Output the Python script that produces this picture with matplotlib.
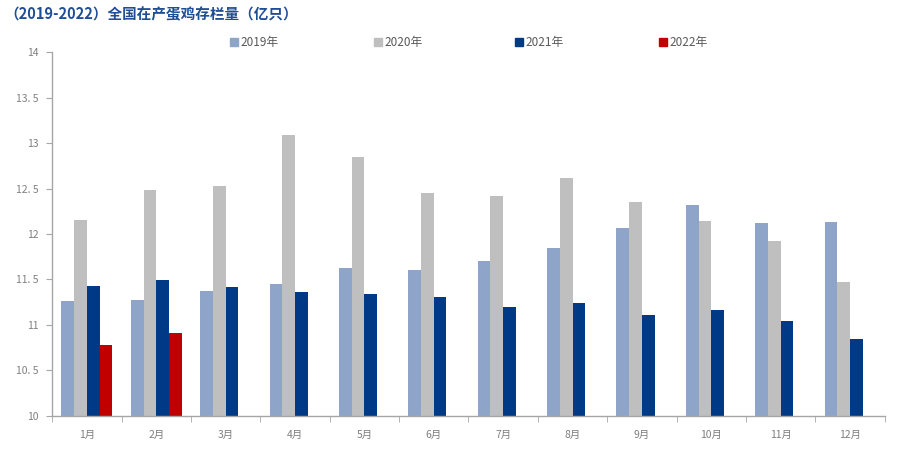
import numpy as np
import matplotlib
matplotlib.use('Agg')
import matplotlib.pyplot as plt
from matplotlib.ticker import FixedLocator

plt.rcParams['font.family'] = ['Noto Sans CJK SC', 'DejaVu Sans']

# data
months = ['1月', '2月', '3月', '4月', '5月', '6月', '7月', '8月', '9月', '10月', '11月', '12月']
y2019 = [11.26, 11.27, 11.37, 11.45, 11.63, 11.60, 11.70, 11.85, 12.07, 12.32, 12.12, 12.13]
y2020 = [12.15, 12.48, 12.53, 13.09, 12.85, 12.45, 12.42, 12.62, 12.35, 12.14, 11.92, 11.47]
y2021 = [11.43, 11.49, 11.42, 11.36, 11.34, 11.31, 11.20, 11.24, 11.11, 11.16, 11.04, 10.85]
y2022 = [10.78, 10.91]
series_names = ['2019年', '2020年', '2021年', '2022年']
yticks = [10, 10.5, 11, 11.5, 12, 12.5, 13, 13.5, 14]
ytick_labels = ['10', '10. 5', '11', '11. 5', '12', '12. 5', '13', '13. 5', '14']
colors = ['#8EA5C9', '#BFBFBF', '#003A86', '#C00000']

fig = plt.figure(figsize=(9, 4.58), dpi=100)
ax = fig.add_axes([0.058, 0.092, 0.925, 0.794])

x = np.arange(len(months))
w = 0.183
all_series = [y2019, y2020, y2021, y2022]
for k, (vals, name, c) in enumerate(zip(all_series, series_names, colors)):
    xs = x[:len(vals)] + (k - 1.5) * w
    ax.bar(xs, np.array(vals) - 10, bottom=10, width=w, color=c, label=name, zorder=2)

ax.set_ylim(10, 14)
ax.set_xlim(-0.5, 11.5)
ax.set_yticks(yticks)
ax.set_yticklabels(ytick_labels)

ax.set_xticks(x)
ax.set_xticklabels(months)
ax.xaxis.set_minor_locator(FixedLocator(np.arange(-0.5, 12, 1)))
ax.tick_params(axis='x', which='major', length=0, pad=10, labelsize=7.5, colors='#7F7F7F')
ax.tick_params(axis='x', which='minor', length=4, color='#A6A6A6', direction='out')
ax.tick_params(axis='y', length=4, color='#A6A6A6', labelsize=7.5, labelcolor='#7F7F7F', pad=6)

for s in ['top', 'right']:
    ax.spines[s].set_visible(False)
for s in ['left', 'bottom']:
    ax.spines[s].set_color('#A6A6A6')
    ax.spines[s].set_linewidth(1.0)

# legend entries spread across the top
leg_x = [0.255, 0.415, 0.572, 0.732]
for name, c, lx in zip(series_names, colors, leg_x):
    fig.patches.append(plt.Rectangle((lx, 0.899), 0.009, 0.018, transform=fig.transFigure,
                                     color=c, figure=fig))
    fig.text(lx + 0.012, 0.908, name, fontsize=8.5, color='#595959', va='center')

fig.text(0.005, 0.968, '（2019-2022）全国在产蛋鸡存栏量（亿只）', fontsize=10.5,
         fontweight='bold', color='#1F4E96', va='center')

fig.savefig('out.png', dpi=100)
